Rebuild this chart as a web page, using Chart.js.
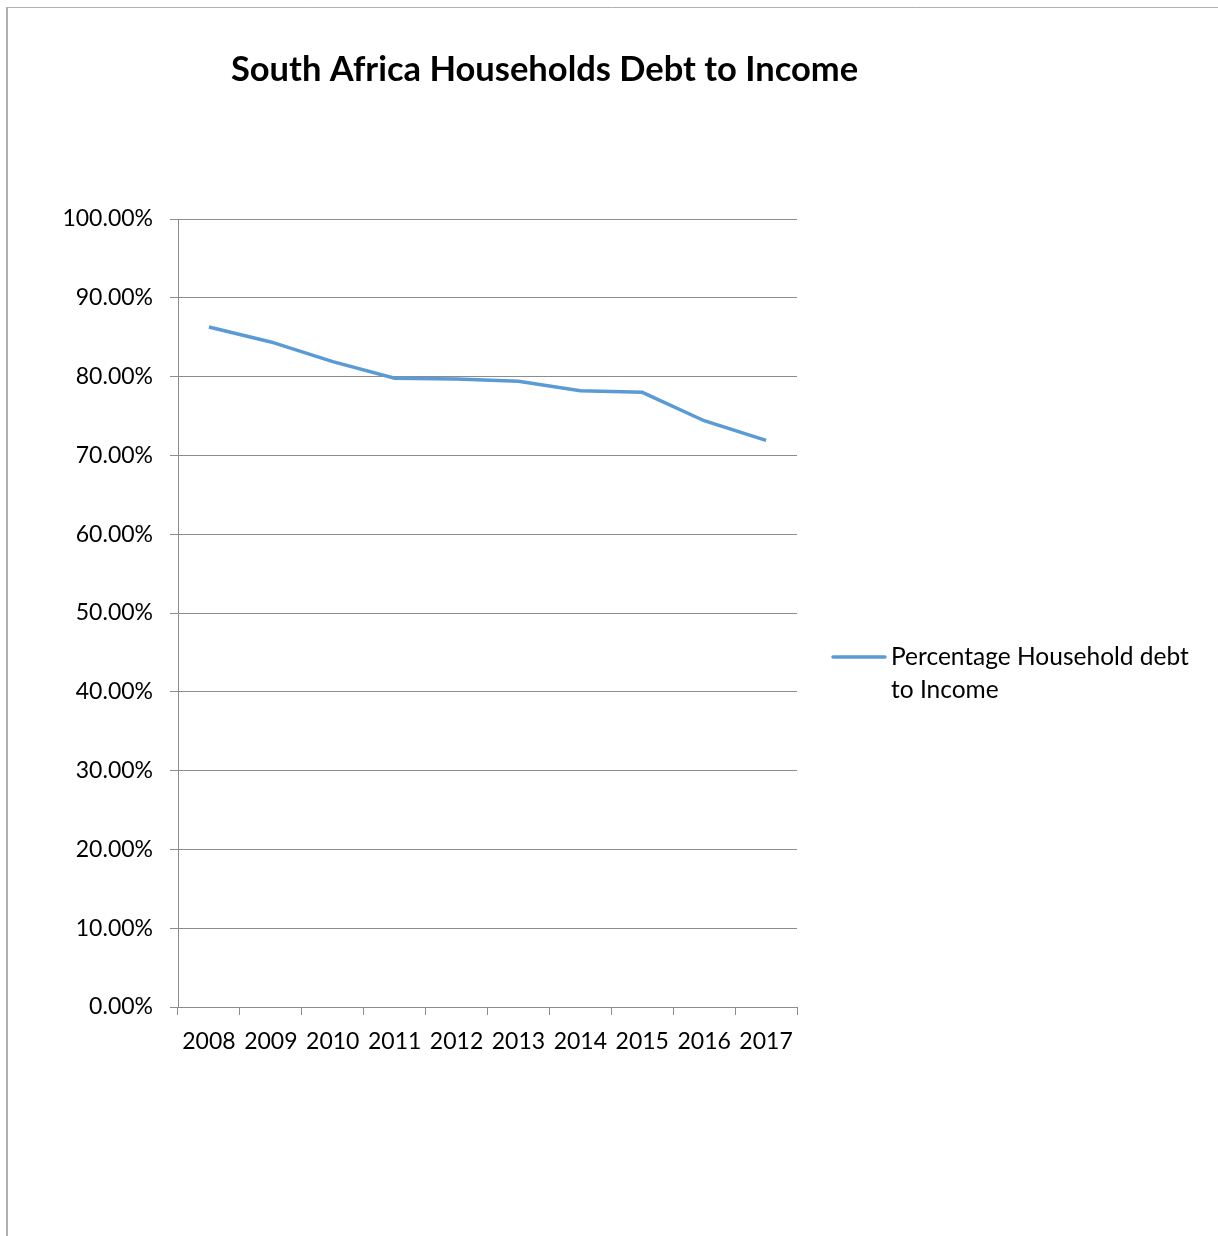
<!DOCTYPE html>
<html>
<head>
<meta charset="utf-8">
<title>South Africa Households Debt to Income</title>
<script src="https://cdn.jsdelivr.net/npm/chart.js@4.4.1/dist/chart.umd.min.js"></script>
<style>
  html, body { margin: 0; padding: 0; background: #ffffff; }
  #wrap { position: relative; width: 1218px; height: 1236px; }
  canvas { display: block; }
</style>
</head>
<body>
<div id="wrap"><canvas id="chart" width="1218" height="1236"></canvas></div>
<script>
// Household debt as a share of disposable income, South Africa
const years = ['2008', '2009', '2010', '2011', '2012', '2013', '2014', '2015', '2016', '2017'];
const debtToIncome = [86.3, 84.4, 81.9, 79.8, 79.7, 79.4, 78.2, 78.0, 74.4, 71.9];
const seriesName = 'Percentage Household debt to Income';
const legendLines = ['Percentage Household debt', 'to Income'];
const chartTitle = 'South Africa Households Debt to Income';

const FONT = 'Lato, "Open Sans", "Liberation Sans", sans-serif';
const GRID = '#8c8c8c';
const LINE = '#5b9bd5';

// Outer frame, title and the right-hand legend
const decorations = {
  id: 'decorations',
  beforeDraw(chart) {
    const ctx = chart.ctx;
    ctx.save();
    ctx.fillStyle = '#ffffff';
    ctx.fillRect(0, 0, chart.width, chart.height);
    ctx.strokeStyle = '#b0b0b0';
    ctx.lineWidth = 2;
    ctx.beginPath();
    ctx.moveTo(7, 7);
    ctx.lineTo(7, chart.height);
    ctx.stroke();
    ctx.lineWidth = 1;
    ctx.beginPath();
    ctx.moveTo(7, 7.5);
    ctx.lineTo(chart.width, 7.5);
    ctx.stroke();
    ctx.restore();
  },
  afterDraw(chart) {
    const ctx = chart.ctx;
    ctx.save();
    ctx.fillStyle = '#000000';
    ctx.font = 'bold 34.5px ' + FONT;
    ctx.textAlign = 'center';
    ctx.textBaseline = 'middle';
    ctx.fillText(chartTitle, 544.5, 70);

    const ds = chart.data.datasets[0];
    ctx.strokeStyle = ds.borderColor;
    ctx.lineWidth = ds.borderWidth;
    ctx.lineCap = 'round';
    ctx.beginPath();
    ctx.moveTo(833, 657);
    ctx.lineTo(885, 657);
    ctx.stroke();

    ctx.fillStyle = '#000000';
    ctx.font = '24.5px ' + FONT;
    ctx.textAlign = 'left';
    ctx.textBaseline = 'middle';
    legendLines.forEach((t, i) => ctx.fillText(t, 891, 657 + i * 33));
    ctx.restore();
  }
};

new Chart(document.getElementById('chart'), {
  type: 'line',
  data: {
    labels: years,
    datasets: [{
      label: seriesName,
      data: debtToIncome,
      borderColor: LINE,
      backgroundColor: LINE,
      borderWidth: 3.5,
      pointRadius: 0,
      pointHoverRadius: 0,
      tension: 0,
      fill: false
    }]
  },
  options: {
    responsive: false,
    animation: false,
    events: [],
    layout: { padding: { left: 0, top: 219, right: 421, bottom: 169 } },
    plugins: {
      legend: { display: false },
      title: { display: false },
      tooltip: { enabled: false }
    },
    scales: {
      x: {
        type: 'category',
        offset: true,
        afterFit(scale) { scale.height = 60; },
        grid: {
          display: true,
          offset: true,
          drawOnChartArea: false,
          drawTicks: true,
          tickLength: 8,
          color: GRID,
          lineWidth: 1
        },
        border: { display: true, color: GRID, width: 1 },
        ticks: {
          color: '#000000',
          font: { family: FONT, size: 23 },
          padding: 13,
          maxRotation: 0,
          autoSkip: false
        }
      },
      y: {
        min: 0,
        max: 100,
        afterFit(scale) { scale.width = 178; },
        grid: {
          color: GRID,
          lineWidth: 1,
          drawTicks: true,
          tickLength: 8
        },
        border: { display: true, color: GRID, width: 1 },
        ticks: {
          stepSize: 10,
          color: '#000000',
          font: { family: FONT, size: 23 },
          padding: 17,
          callback: (v) => v.toFixed(2) + '%'
        }
      }
    }
  },
  plugins: [decorations]
});
</script>
</body>
</html>
